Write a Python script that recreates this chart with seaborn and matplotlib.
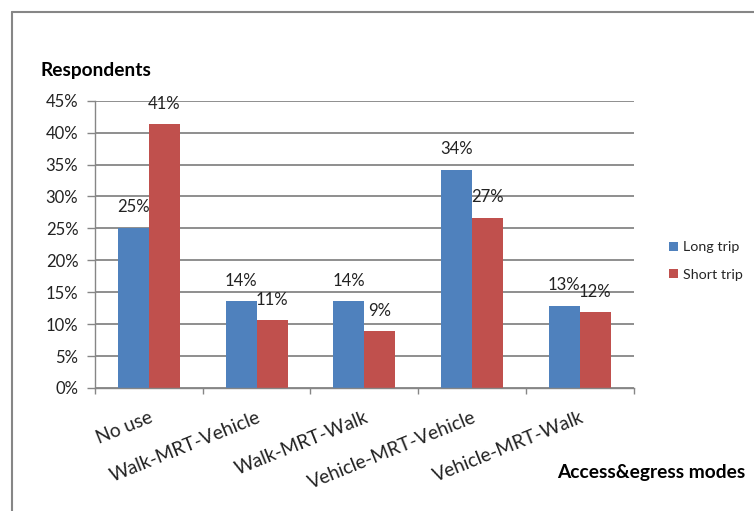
import matplotlib
matplotlib.use("Agg")
import matplotlib.pyplot as plt
from matplotlib.lines import Line2D
from matplotlib.ticker import FuncFormatter, FixedLocator
import seaborn as sns
import pandas as pd

# Share of respondents by access & egress mode combination
modes = ["No use", "Walk-MRT-Vehicle", "Walk-MRT-Walk", "Vehicle-MRT-Vehicle", "Vehicle-MRT-Walk"]
long_trip = [25.1, 13.6, 13.6, 34.2, 12.9]
short_trip = [41.3, 10.6, 8.9, 26.7, 11.9]
series_names = ["Long trip", "Short trip"]
y_ticks = [0, 5, 10, 15, 20, 25, 30, 35, 40, 45]

BLUE = "#4F81BD"
RED = "#C0504D"
GRID = "#868686"
TEXT = "#222222"

df = pd.DataFrame({
    "mode": modes * 2,
    "share": long_trip + short_trip,
    "trip": [series_names[0]] * len(modes) + [series_names[1]] * len(modes),
})

sns.set_theme(style="white")
plt.rcParams["font.family"] = ["Lato", "DejaVu Sans"]

W, H = 754, 511
fig = plt.figure(figsize=(W / 100, H / 100), dpi=100)
fig.patch.set_facecolor("white")

# plot area in pixel coordinates
left_px, right_px, top_px, bottom_px = 95, 633.5, 100.7, 388
ax = fig.add_axes([left_px / W, 1 - bottom_px / H,
                   (right_px - left_px) / W, (bottom_px - top_px) / H])

sns.barplot(data=df, x="mode", y="share", hue="trip", order=modes,
            hue_order=series_names, palette=[BLUE, RED], saturation=1,
            width=0.575, gap=0, linewidth=0, ax=ax)

ax.set_ylim(0, 45)
ax.set_xlim(-0.5, len(modes) - 0.5)
ax.yaxis.set_major_locator(FixedLocator(y_ticks))
ax.yaxis.set_major_formatter(FuncFormatter(lambda v, p: f"{v:.0f}%"))
ax.set_axisbelow(True)
ax.yaxis.grid(True, color=GRID, linewidth=1.3)
ax.xaxis.grid(False)

for side in ["top", "right"]:
    ax.spines[side].set_visible(False)
for side in ["left", "bottom"]:
    ax.spines[side].set_color(GRID)
    ax.spines[side].set_linewidth(1.0)

ax.tick_params(axis="y", which="major", direction="out", length=5.5, width=1,
               color=GRID, pad=6.5, labelsize=12, labelcolor=TEXT, left=True)
# category boundary ticks along the x axis
ax.set_xticks([i - 0.5 for i in range(len(modes) + 1)], minor=True)
ax.tick_params(axis="x", which="minor", direction="out", length=4, width=1,
               color=GRID, bottom=True)
ax.tick_params(axis="x", which="major", length=0, pad=15, labelsize=13.8,
               labelcolor=TEXT)
ax.set_xticks(range(len(modes)))
ax.set_xticklabels(modes, rotation=22, ha="right", rotation_mode="anchor")

ax.set_xlabel("")
ax.set_ylabel("")

# value labels above each bar
for cont, vals in zip(ax.containers, [long_trip, short_trip]):
    ax.bar_label(cont, labels=[f"{v:.0f}%" for v in vals], padding=9,
                 fontsize=12, color=TEXT)

# legend to the right of the plot area
handles, labels = ax.get_legend_handles_labels()
ax.legend(handles, labels, loc="center left",
          bbox_to_anchor=(669 / W, 1 - 261 / H), bbox_transform=fig.transFigure,
          frameon=False, fontsize=10.3, handlelength=0.6, handleheight=0.6,
          handletextpad=0.4, labelspacing=1.05, borderpad=0, borderaxespad=0)

fig.text(40 / W, 1 - 76 / H, "Respondents", fontsize=13.8, fontweight="bold",
         color="black", ha="left", va="baseline")
fig.text(745 / W, 1 - 478 / H, "Access&egress modes", fontsize=13.8,
         fontweight="bold", color="black", ha="right", va="baseline")

# chart frame along the top and left
fig.add_artist(Line2D([12 / W, 12 / W], [0, 1 - 12 / H], transform=fig.transFigure,
                      color=GRID, linewidth=1.5))
fig.add_artist(Line2D([12 / W, 1], [1 - 12 / H, 1 - 12 / H], transform=fig.transFigure,
                      color=GRID, linewidth=1.5))

fig.savefig("out.png", dpi=100, facecolor="white")
